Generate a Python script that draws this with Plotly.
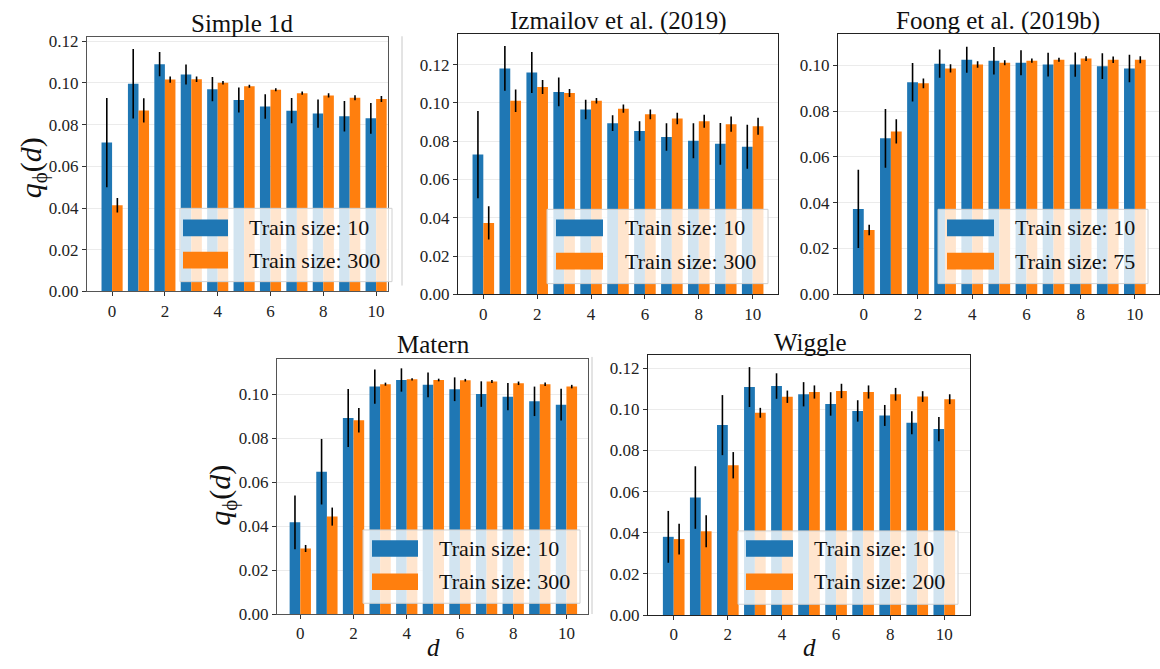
import plotly.graph_objects as go

W, H = 1160, 669
d = list(range(11))

titles = ["Simple 1d", "Izmailov et al. (2019)", "Foong et al. (2019b)", "Matern", "Wiggle"]
labels_small = ["Train size: 10"] * 5
labels_large = ["Train size: 300", "Train size: 300", "Train size: 75", "Train size: 300", "Train size: 200"]

simple_small = [0.0714, 0.0996, 0.1090, 0.1040, 0.0970, 0.0918, 0.0887, 0.0867, 0.0853, 0.0840, 0.0830]
simple_small_err = [0.0214, 0.0167, 0.0058, 0.0048, 0.0058, 0.0060, 0.0059, 0.0061, 0.0068, 0.0073, 0.0074]
simple_large = [0.0413, 0.0868, 0.1016, 0.1018, 0.1001, 0.0984, 0.0967, 0.0951, 0.0940, 0.0929, 0.0923]
simple_large_err = [0.0035, 0.0058, 0.0015, 0.0013, 0.0008, 0.0007, 0.0007, 0.0008, 0.0010, 0.0012, 0.0014]

izm_small = [0.0730, 0.1180, 0.1159, 0.1057, 0.0965, 0.0894, 0.0853, 0.0822, 0.0802, 0.0786, 0.0771]
izm_small_err = [0.0228, 0.0117, 0.0107, 0.0075, 0.0051, 0.0041, 0.0051, 0.0072, 0.0091, 0.0109, 0.0115]
izm_large = [0.0373, 0.1011, 0.1083, 0.1052, 0.1011, 0.0970, 0.0940, 0.0919, 0.0904, 0.0889, 0.0878]
izm_large_err = [0.0087, 0.0059, 0.0037, 0.0021, 0.0014, 0.0021, 0.0025, 0.0030, 0.0034, 0.0040, 0.0045]

foong_small = [0.0373, 0.0681, 0.0926, 0.1007, 0.1024, 0.1020, 0.1011, 0.1003, 0.1003, 0.0996, 0.0986]
foong_small_err = [0.0171, 0.0128, 0.0084, 0.0062, 0.0057, 0.0060, 0.0055, 0.0052, 0.0053, 0.0056, 0.0060]
foong_large = [0.0281, 0.0711, 0.0921, 0.0986, 0.1003, 0.1011, 0.1020, 0.1024, 0.1029, 0.1024, 0.1024]
foong_large_err = [0.0023, 0.0053, 0.0021, 0.0018, 0.0014, 0.0011, 0.0009, 0.0009, 0.0010, 0.0014, 0.0015]

matern_small = [0.0417, 0.0647, 0.0891, 0.1034, 0.1064, 0.1042, 0.1022, 0.1000, 0.0988, 0.0967, 0.0952]
matern_small_err = [0.0122, 0.0149, 0.0132, 0.0078, 0.0053, 0.0056, 0.0054, 0.0058, 0.0062, 0.0067, 0.0072]
matern_large = [0.0298, 0.0443, 0.0881, 0.1045, 0.1067, 0.1064, 0.1063, 0.1057, 0.1049, 0.1045, 0.1034]
matern_large_err = [0.0016, 0.0041, 0.0056, 0.0007, 0.0005, 0.0006, 0.0006, 0.0007, 0.0008, 0.0008, 0.0008]

wiggle_small = [0.0380, 0.0571, 0.0923, 0.1108, 0.1113, 0.1073, 0.1026, 0.0992, 0.0970, 0.0935, 0.0904]
wiggle_small_err = [0.0126, 0.0152, 0.0146, 0.0097, 0.0062, 0.0059, 0.0057, 0.0052, 0.0051, 0.0056, 0.0059]
wiggle_large = [0.0369, 0.0407, 0.0728, 0.0983, 0.1061, 0.1084, 0.1089, 0.1084, 0.1073, 0.1062, 0.1049]
wiggle_large_err = [0.0075, 0.0078, 0.0064, 0.0024, 0.0030, 0.0032, 0.0035, 0.0032, 0.0031, 0.0026, 0.0024]

small_vals = [simple_small, izm_small, foong_small, matern_small, wiggle_small]
small_errs = [simple_small_err, izm_small_err, foong_small_err, matern_small_err, wiggle_small_err]
large_vals = [simple_large, izm_large, foong_large, matern_large, wiggle_large]
large_errs = [simple_large_err, izm_large_err, foong_large_err, matern_large_err, wiggle_large_err]

xticks = [0, 2, 4, 6, 8, 10]
yticks_a = [0.0, 0.02, 0.04, 0.06, 0.08, 0.10, 0.12]
yticks_b = [0.0, 0.02, 0.04, 0.06, 0.08, 0.10]
yticks = [yticks_a, yticks_a, yticks_b, yticks_b, yticks_a]

BLUE = "#1f77b4"
ORANGE = "#ff7f0e"
FONT = "Liberation Serif"

# panel frames in pixels: (left, right, top, bottom)
frames = [(87, 388, 33, 293), (458, 778, 30, 296), (838, 1159, 30, 296),
          (277, 588, 362, 623), (648, 970, 358, 624)]
xranges = [[-0.95, 10.45], [-0.94, 10.94], [-0.95, 10.89], [-0.875, 10.81], [-0.95, 10.95]]
yranges = [[0, 0.1219], [0, 0.1358], [0, 0.1135], [0, 0.116], [0, 0.1264]]
framecolors = ["#555555", "#222222", "#222222", "#555555", "#222222"]

def px(x):
    return x / W

def py(y):
    return 1 - y / H

fig = go.Figure()
layout = {}
for i in range(5):
    sfx = "" if i == 0 else str(i + 1)
    xa, ya = "x" + sfx, "y" + sfx
    fig.add_trace(go.Bar(x=d, y=small_vals[i], name=labels_small[i], marker_color=BLUE,
                         marker_line_width=0, offsetgroup="a", xaxis=xa, yaxis=ya,
                         error_y=dict(type="data", array=small_errs[i], color="black",
                                      thickness=1.6, width=0),
                         showlegend=False))
    fig.add_trace(go.Bar(x=d, y=large_vals[i], name=labels_large[i], marker_color=ORANGE,
                         marker_line_width=0, offsetgroup="b", xaxis=xa, yaxis=ya,
                         error_y=dict(type="data", array=large_errs[i], color="black",
                                      thickness=1.6, width=0),
                         showlegend=False))
    l, r, t, b = frames[i]
    layout["xaxis" + sfx] = dict(domain=[px(l), px(r)], anchor=ya, range=xranges[i],
                                 tickvals=xticks, showgrid=False, zeroline=False,
                                 showline=True, mirror=True, linecolor=framecolors[i], linewidth=1,
                                 ticks="outside", ticklen=4, tickcolor="#333",
                                 tickfont=dict(family=FONT, size=17, color="#222"))
    layout["yaxis" + sfx] = dict(domain=[py(b), py(t)], anchor=xa, range=yranges[i],
                                 tickvals=yticks[i], tickformat=".2f",
                                 showgrid=True, gridcolor="#ebebeb", gridwidth=1, zeroline=False,
                                 showline=True, mirror=True, linecolor=framecolors[i], linewidth=1,
                                 ticks="outside", ticklen=4, tickcolor="#333",
                                 tickfont=dict(family=FONT, size=17, color="#222"))

annotations = []
shapes = []

# titles
title_pos = [(242, 19), (618, 16), (998, 16), (433, 347), (810, 345)]
for i, (tx, ty) in enumerate(title_pos):
    annotations.append(dict(text=titles[i], x=px(tx), y=py(ty), xref="paper", yref="paper",
                            showarrow=False, xanchor="center", yanchor="middle",
                            font=dict(family=FONT, size=25, color="#111")))

# axis labels
ylab = "<i>q</i><sub>ϕ</sub>(<i>d</i>)"
for (lx, ly) in [(33, 167), (222, 502)]:
    annotations.append(dict(text=ylab, x=px(lx), y=py(ly), xref="paper", yref="paper",
                            showarrow=False, textangle=-90, xanchor="center", yanchor="middle",
                            font=dict(family=FONT, size=30, color="#111")))
for (lx, ly) in [(433, 657), (809, 657)]:
    annotations.append(dict(text="<i>d</i>", x=px(lx), y=py(ly), xref="paper", yref="paper",
                            showarrow=False, xanchor="center", yanchor="middle",
                            font=dict(family=FONT, size=25, color="#111")))

# manual legends: (box_l, box_r, box_t, box_b, patch_l, patch_r, text_x, row1_y, row2_y)
legends = [(180, 392, 208, 283, 183, 228, 247, 228, 261),
           (547, 768, 209, 285, 556, 603, 623, 228, 262),
           (938, 1148, 209, 285, 947, 994, 1013, 228, 262),
           (363, 580, 537, 612, 372, 418, 437, 556, 590),
           (738, 958, 538, 613, 746, 793, 812, 556, 590)]
for i, (bl, br, bt, bb, pl, pr, txx, r1, r2) in enumerate(legends):
    shapes.append(dict(type="rect", xref="paper", yref="paper", x0=px(bl), x1=px(br),
                       y0=py(bb), y1=py(bt), fillcolor="rgba(255,255,255,0.8)",
                       line=dict(color="#d0d0d0", width=1), layer="above"))
    for ry, col, lab in [(r1, BLUE, labels_small[i]), (r2, ORANGE, labels_large[i])]:
        shapes.append(dict(type="rect", xref="paper", yref="paper", x0=px(pl), x1=px(pr),
                           y0=py(ry + 8.5), y1=py(ry - 8.5), fillcolor=col,
                           line=dict(width=0), layer="above"))
        annotations.append(dict(text=lab, x=px(txx), y=py(ry), xref="paper", yref="paper",
                                showarrow=False, xanchor="left", yanchor="middle",
                                font=dict(family=FONT, size=22, color="#111")))

# faint borders of the pasted image panels
shapes.append(dict(type="line", xref="paper", yref="paper", x0=px(402), x1=px(402),
                   y0=py(287), y1=py(32), line=dict(color="#c8c8c8", width=1)))
shapes.append(dict(type="line", xref="paper", yref="paper", x0=px(592), x1=px(592),
                   y0=py(623), y1=py(360), line=dict(color="#c8c8c8", width=1)))

fig.update_layout(width=W, height=H, margin=dict(l=0, r=0, t=0, b=0),
                  paper_bgcolor="white", plot_bgcolor="white",
                  barmode="group", bargap=0.2, bargroupgap=0,
                  showlegend=False, annotations=annotations, shapes=shapes, **layout)

fig.write_html("out.html")
